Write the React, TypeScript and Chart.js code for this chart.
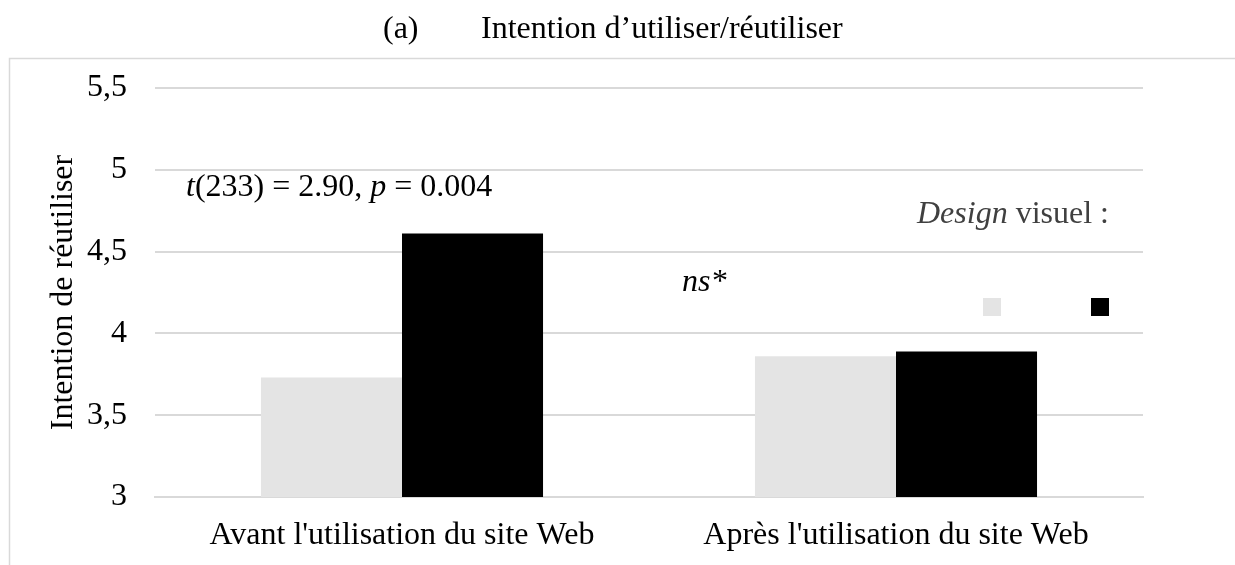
import React, { useEffect, useRef } from "react";
import { Chart, registerables } from "chart.js";

Chart.register(...registerables);

const categories = ["Avant l'utilisation du site Web", "Après l'utilisation du site Web"];
const seriesLight = [3.73, 3.86];
const seriesDark = [4.61, 3.89];
const yMin = 3;
const yMax = 5.5;
const yStep = 0.5;

const FONT = "'Liberation Serif', 'Times New Roman', serif";

const decor = {
  id: "decor",
  beforeDraw(chart: any) {
    const ctx = chart.ctx;
    ctx.save();
    ctx.strokeStyle = "#d9d9d9";
    ctx.lineWidth = 1.5;
    ctx.beginPath();
    ctx.moveTo(9.5, 565);
    ctx.lineTo(9.5, 58.5);
    ctx.lineTo(1235, 58.5);
    ctx.stroke();
    ctx.restore();
  },
  afterDraw(chart: any) {
    const ctx = chart.ctx;
    const area = chart.chartArea;
    ctx.save();
    ctx.fillStyle = "#000";
    ctx.textBaseline = "alphabetic";
    ctx.textAlign = "left";
    ctx.font = `32px ${FONT}`;
    ctx.fillText("(a)", 383, 38);
    ctx.fillText("Intention d\u2019utiliser/réutiliser", 481, 38);

    // y title
    ctx.save();
    ctx.translate(72, (area.top + area.bottom) / 2);
    ctx.rotate(-Math.PI / 2);
    ctx.textAlign = "center";
    ctx.textBaseline = "alphabetic";
    ctx.fillStyle = "#000";
    ctx.fillText("Intention de réutiliser", 0, 0);
    ctx.restore();

    // t annotation
    let x = 186;
    const yb = 196;
    const parts: [string, boolean][] = [
      ["t", true],
      ["(233) = 2.90, ", false],
      ["p", true],
      [" = 0.004", false],
    ];
    for (const [s, it] of parts) {
      ctx.font = `${it ? "italic " : ""}32px ${FONT}`;
      ctx.fillText(s, x, yb);
      x += ctx.measureText(s).width;
    }
    ctx.font = `italic 32px ${FONT}`;
    ctx.fillText("ns*", 682, 291);

    // legend
    ctx.fillStyle = "#404040";
    let lx = 917;
    const ly = 223;
    const lparts: [string, boolean][] = [
      ["Design", true],
      [" visuel :", false],
    ];
    for (const [s, it] of lparts) {
      ctx.font = `${it ? "italic " : ""}32px ${FONT}`;
      ctx.fillText(s, lx, ly);
      lx += ctx.measureText(s).width;
    }
    const ds = chart.data.datasets;
    ctx.fillStyle = ds[0].backgroundColor;
    ctx.fillRect(983, 298, 18, 18);
    ctx.fillStyle = ds[1].backgroundColor;
    ctx.fillRect(1091, 298, 18, 18);
    ctx.restore();
  },
};

export default function App() {
  const ref = useRef<HTMLCanvasElement>(null);
  useEffect(() => {
    const chart = new Chart(ref.current!, {
      type: "bar",
      data: {
        labels: categories,
        datasets: [
          { label: "clair", data: seriesLight, backgroundColor: "#e4e4e4", barPercentage: 1, categoryPercentage: 0.571 },
          { label: "foncé", data: seriesDark, backgroundColor: "#000000", barPercentage: 1, categoryPercentage: 0.571 },
        ],
      },
      options: {
        animation: false,
        responsive: false,
        devicePixelRatio: 1,
        layout: { padding: { left: 0, right: 92, top: 88, bottom: 0 } },
        plugins: { legend: { display: false }, tooltip: { enabled: false }, title: { display: false } },
        scales: {
          x: {
            grid: { display: false, drawTicks: false },
            border: { display: true, color: "#d9d9d9", width: 2 },
            ticks: { color: "#000", font: { family: FONT, size: 32 }, padding: 19, maxRotation: 0 },
            afterFit(scale: any) { scale.height = 68; },
          },
          y: {
            min: yMin,
            max: yMax,
            grid: { color: "#d9d9d9", lineWidth: 2, drawTicks: false },
            border: { display: false },
            ticks: {
              stepSize: yStep,
              color: "#000",
              font: { family: FONT, size: 32 },
              padding: 28,
              callback: (v: any) => String(v).replace(".", ","),
            },
            afterFit(scale: any) { scale.width = 155; },
          },
        },
      },
      plugins: [decor],
    });
    return () => chart.destroy();
  }, []);
  return (
    <div style={{ position: "fixed", left: 0, top: 0, width: 1235, height: 565, background: "#fff" }}>
      <canvas ref={ref} width={1235} height={565} style={{ width: 1235, height: 565 }} />
    </div>
  );
}
